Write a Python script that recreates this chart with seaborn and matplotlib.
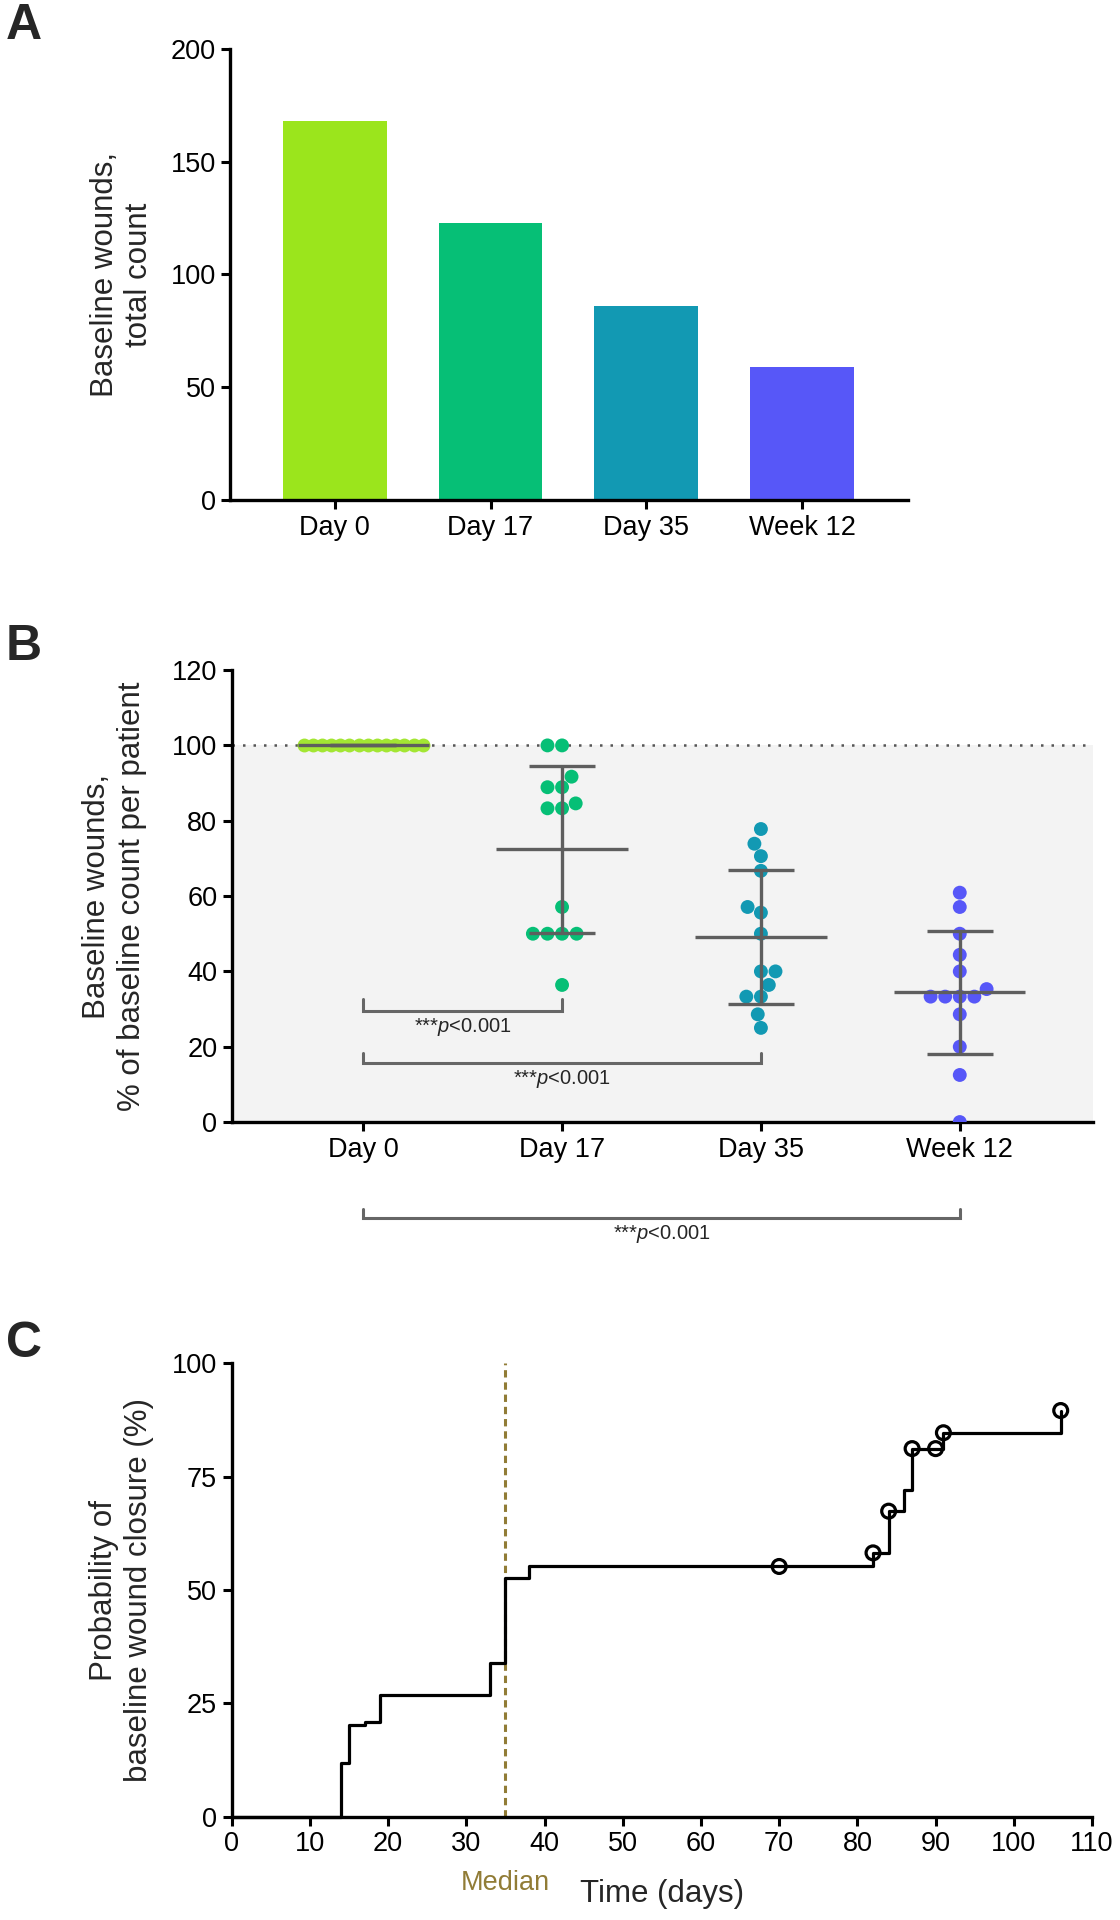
import numpy as np
import pandas as pd
import matplotlib
matplotlib.use("Agg")
import matplotlib.pyplot as plt
import seaborn as sns

# ---- data ----
visits = ["Day 0", "Day 17", "Day 35", "Week 12"]
visit_colors = ["#9be51c", "#06bf76", "#1299b3", "#5757f8"]

# A: total baseline wound count
total_counts = [168, 123, 86, 59]

# B: baseline wounds remaining, % of baseline count per patient
pct_day0 = [100.0] * 14
pct_day17 = [100.0, 100.0, 91.7, 88.9, 88.9, 84.6, 83.3, 83.3, 57.1,
             50.0, 50.0, 50.0, 50.0, 36.4]
pct_day35 = [77.8, 73.9, 70.6, 66.7, 57.1, 55.6, 50.0, 40.0, 40.0,
             36.4, 33.3, 33.3, 28.6, 25.0]
pct_week12 = [60.9, 57.1, 50.0, 44.4, 40.0, 35.3, 33.3, 33.3, 33.3,
              33.3, 28.6, 20.0, 12.5, 0.0]

# comparisons vs Day 0: (group, bracket y, tip y, text y)
comp_groups = ["Day 17", "Day 35", "Week 12"]
comp_bracket_y = [29.6, 15.7, -25.5]
comp_tip_y = [32.7, 18.3, -23.0]
comp_text_y = [25.3, 11.3, -29.6]
comp_label = "***$p$<0.001"

# C: Kaplan-Meier, probability of baseline wound closure
km_days = [0, 14, 15, 17, 19, 33, 35, 38, 82, 84, 86, 87, 91, 106]
km_pct = [0, 11.9, 20.2, 20.8, 26.9, 33.9, 52.7, 55.2, 58.2, 67.4,
          72.1, 81.2, 84.7, 89.6]
censored_days = [70, 82, 84, 87, 90, 91, 106]
median_day = 35

# ---- style ----
sns.set_style("ticks")
plt.rcParams["font.family"] = ["Liberation Sans", "DejaVu Sans"]
plt.rcParams["mathtext.fontset"] = "custom"
plt.rcParams["mathtext.rm"] = "Liberation Sans"
plt.rcParams["mathtext.it"] = "Liberation Sans:italic"

GRAY = "#5e5e5e"
OLIVE = "#917c36"
TICK_FS = 19.5
LABEL_FS = 22.5
P_FS = 14.5

fig = plt.figure(figsize=(11.2, 19.2), dpi=100)


def style_axes(ax):
    sns.despine(ax=ax)
    for s in ["left", "bottom"]:
        ax.spines[s].set_linewidth(2.4)
        ax.spines[s].set_color("black")
    ax.tick_params(direction="out", length=6.5, width=2.2, labelsize=TICK_FS,
                   color="black", labelcolor="black", pad=4)


# ---- A ----
axA = fig.add_axes([0.2057, 0.7396, 0.6052, 0.2349])
sns.barplot(x=visits, y=total_counts, hue=visits, palette=visit_colors,
            width=0.667, linewidth=0, saturation=1, legend=False, ax=axA)
axA.set_xlim(-0.669, 3.68)
axA.set_ylim(0, 200)
axA.set_yticks([0, 50, 100, 150, 200])
axA.set_xlabel("")
axA.set_ylabel("Baseline wounds,\ntotal count", fontsize=LABEL_FS)
axA.yaxis.label.set_va("center")
axA.yaxis.set_label_coords(-0.160, 0.5)
style_axes(axA)

# ---- B ----
axB = fig.add_axes([0.2071, 0.4156, 0.7688, 0.2354])
axB.axhspan(0, 100, color="#f3f3f3", lw=0, zorder=0)
axB.axhline(100, color="#555555", lw=1.8, ls=(0, (1, 3.2)), zorder=1)

groups = [pct_day0, pct_day17, pct_day35, pct_week12]
df_b = pd.DataFrame({
    "visit": [v for v, g in zip(visits[1:], groups[1:]) for _ in g],
    "pct": [x for g in groups[1:] for x in g],
})
sns.swarmplot(data=df_b, x="visit", y="pct", hue="visit", order=visits,
              hue_order=visits, palette=visit_colors, size=10, linewidth=0,
              legend=False, ax=axB, zorder=3)
# Day 0: every patient at 100 %, spread side by side
day0_x = np.linspace(-0.3, 0.3, len(pct_day0))
axB.scatter(day0_x, pct_day0, s=100, color="#a3e633", lw=0, zorder=3)

for i, g in enumerate(groups):
    m = np.mean(g)
    sd = np.std(g, ddof=1)
    axB.hlines(m, i - 0.33, i + 0.33, color=GRAY, lw=2.4, zorder=4)
    axB.errorbar(i, m, yerr=sd, color=GRAY, elinewidth=2.4, capsize=23.5,
                 capthick=2.4, fmt="none", zorder=4)

for grp, yb, yt, ytx in zip(comp_groups, comp_bracket_y, comp_tip_y, comp_text_y):
    j = visits.index(grp)
    axB.plot([0, 0, j, j], [yt, yb, yb, yt], color="#666666", lw=2.2,
             clip_on=False, zorder=2, solid_joinstyle="miter")
    axB.text(j / 2, ytx, comp_label, ha="center", va="center", fontsize=P_FS,
             clip_on=False)

axB.set_xlim(-0.66, 3.67)
axB.set_ylim(0, 120)
axB.set_yticks(range(0, 121, 20))
axB.set_xlabel("")
axB.set_ylabel("Baseline wounds,\n% of baseline count per patient", fontsize=LABEL_FS)
axB.yaxis.label.set_va("center")
axB.yaxis.set_label_coords(-0.1365, 0.5)
style_axes(axB)

# ---- C ----
axC = fig.add_axes([0.2069, 0.0538, 0.7681, 0.2361])
sns.lineplot(x=km_days, y=km_pct, drawstyle="steps-post", color="black",
             lw=2.3, ax=axC, clip_on=False, zorder=3)
km_days_arr = np.array(km_days)
cens_idx = np.searchsorted(km_days_arr, censored_days, side="right") - 1
cens_pct = np.array(km_pct)[cens_idx]
sns.scatterplot(x=censored_days, y=cens_pct, marker="o", s=100,
                facecolors="none", edgecolor="black", linewidth=2.3,
                ax=axC, zorder=4, clip_on=False)
axC.axvline(median_day, ymin=0, ymax=1, color=OLIVE, lw=2.2,
            ls=(0, (2.4, 1.6)), zorder=2)
axC.set_xlim(0, 110)
axC.set_ylim(0, 100)
axC.set_xticks(range(0, 111, 10))
axC.set_yticks([0, 25, 50, 75, 100])
axC.set_xlabel("Time (days)", fontsize=LABEL_FS)
axC.xaxis.label.set_va("center")
axC.xaxis.set_label_coords(0.5, -0.170)
axC.text(median_day, -0.146, "Median", color=OLIVE, fontsize=TICK_FS,
         ha="center", va="center", transform=axC.get_xaxis_transform())
axC.set_ylabel("Probability of\nbaseline wound closure (%)", fontsize=LABEL_FS)
axC.yaxis.label.set_va("center")
axC.yaxis.set_label_coords(-0.128, 0.5)
style_axes(axC)

# panel letters
for letter, ybase in zip(["A", "B", "C"], [39, 660, 1357]):
    fig.text(6 / 1120, 1 - ybase / 1920, letter, fontsize=36, weight="bold",
             ha="left", va="baseline")

fig.savefig("out.png", dpi=100)
